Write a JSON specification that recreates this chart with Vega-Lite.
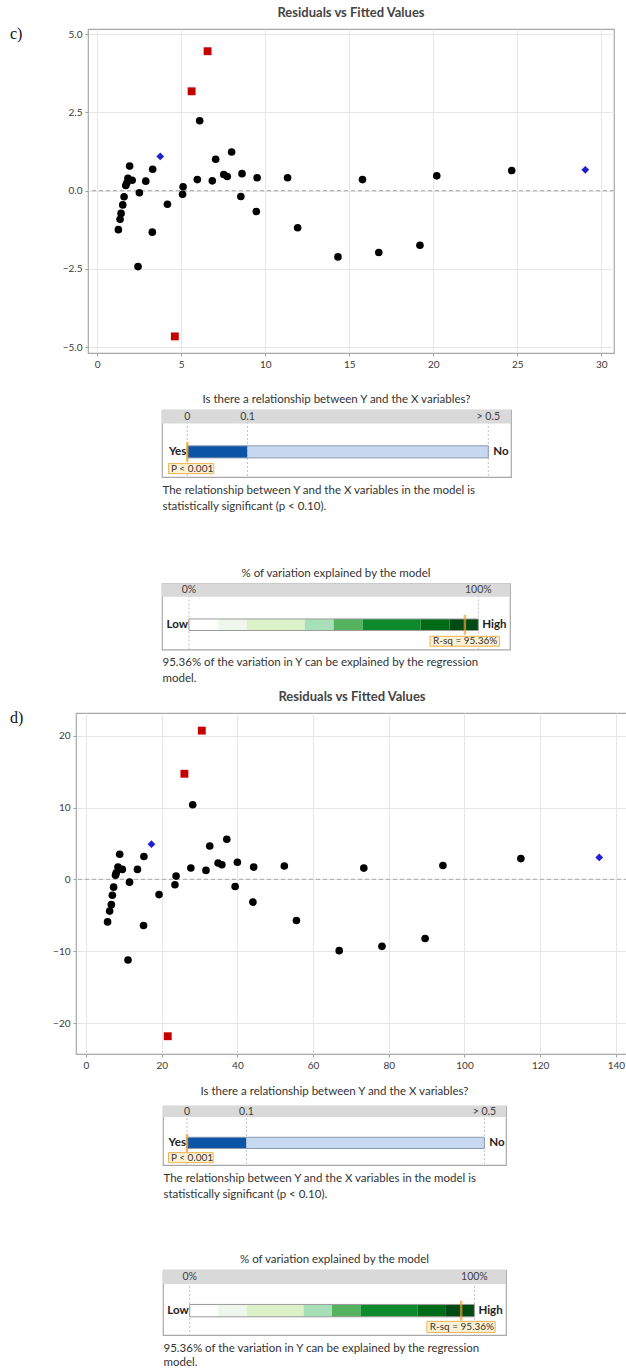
{
"$schema": "https://vega.github.io/schema/vega-lite/v6.json",
"background": "white",
"padding": {"left": 0, "top": 6, "right": 0, "bottom": 0},
"config": {
  "font": "Lato",
  "view": {"stroke": "#a8a8a8", "strokeWidth": 1.2},
  "axis": {"labelFont": "Lato", "labelFontSize": 10, "labelColor": "#3a3a3a", "tickColor": "#a0a0a0", "tickSize": 3, "domain": false, "gridColor": "#e6e6e6", "labelPadding": 3},
  "title": {"font": "Lato"},
  "text": {"font": "Lato"}
},
"datasets": {
  "resC": [
    {"fit": 1.26, "res": -1.25, "kind": "Regular"}, {"fit": 1.36, "res": -0.92, "kind": "Regular"}, {"fit": 1.42, "res": -0.73, "kind": "Regular"},
    {"fit": 1.52, "res": -0.46, "kind": "Regular"}, {"fit": 1.60, "res": -0.20, "kind": "Regular"}, {"fit": 1.70, "res": 0.16, "kind": "Regular"},
    {"fit": 1.76, "res": 0.24, "kind": "Regular"}, {"fit": 1.83, "res": 0.39, "kind": "Regular"}, {"fit": 1.93, "res": 0.78, "kind": "Regular"},
    {"fit": 2.08, "res": 0.33, "kind": "Regular"}, {"fit": 2.51, "res": -0.07, "kind": "Regular"}, {"fit": 2.43, "res": -2.43, "kind": "Regular"},
    {"fit": 2.89, "res": 0.30, "kind": "Regular"}, {"fit": 3.30, "res": 0.68, "kind": "Regular"}, {"fit": 3.28, "res": -1.33, "kind": "Regular"},
    {"fit": 4.18, "res": -0.44, "kind": "Regular"}, {"fit": 5.11, "res": 0.12, "kind": "Regular"}, {"fit": 5.08, "res": -0.12, "kind": "Regular"},
    {"fit": 5.96, "res": 0.35, "kind": "Regular"}, {"fit": 6.10, "res": 2.23, "kind": "Regular"}, {"fit": 6.85, "res": 0.31, "kind": "Regular"},
    {"fit": 7.05, "res": 1.00, "kind": "Regular"}, {"fit": 7.53, "res": 0.51, "kind": "Regular"}, {"fit": 7.74, "res": 0.45, "kind": "Regular"},
    {"fit": 8.00, "res": 1.23, "kind": "Regular"}, {"fit": 8.55, "res": -0.19, "kind": "Regular"}, {"fit": 8.62, "res": 0.54, "kind": "Regular"},
    {"fit": 9.52, "res": 0.41, "kind": "Regular"}, {"fit": 9.47, "res": -0.67, "kind": "Regular"}, {"fit": 11.33, "res": 0.41, "kind": "Regular"},
    {"fit": 11.93, "res": -1.19, "kind": "Regular"}, {"fit": 14.33, "res": -2.12, "kind": "Regular"}, {"fit": 15.79, "res": 0.35, "kind": "Regular"},
    {"fit": 16.76, "res": -1.98, "kind": "Regular"}, {"fit": 19.21, "res": -1.75, "kind": "Regular"}, {"fit": 20.21, "res": 0.47, "kind": "Regular"},
    {"fit": 24.67, "res": 0.64, "kind": "Regular"},
    {"fit": 3.75, "res": 1.09, "kind": "Unusual X"}, {"fit": 29.05, "res": 0.66, "kind": "Unusual X"},
    {"fit": 4.62, "res": -4.66, "kind": "Large residual"}, {"fit": 5.62, "res": 3.17, "kind": "Large residual"}, {"fit": 6.57, "res": 4.45, "kind": "Large residual"}
  ],
  "resD": [
    {"fit": 5.7, "res": -5.9, "kind": "Regular"}, {"fit": 6.25, "res": -4.4, "kind": "Regular"}, {"fit": 6.7, "res": -3.5, "kind": "Regular"},
    {"fit": 6.96, "res": -2.2, "kind": "Regular"}, {"fit": 7.3, "res": -1.07, "kind": "Regular"}, {"fit": 7.8, "res": 0.6, "kind": "Regular"},
    {"fit": 8.0, "res": 0.93, "kind": "Regular"}, {"fit": 8.45, "res": 1.72, "kind": "Regular"}, {"fit": 8.9, "res": 3.5, "kind": "Regular"},
    {"fit": 9.6, "res": 1.4, "kind": "Regular"}, {"fit": 11.1, "res": -11.2, "kind": "Regular"}, {"fit": 11.5, "res": -0.37, "kind": "Regular"},
    {"fit": 13.6, "res": 1.4, "kind": "Regular"}, {"fit": 15.2, "res": -6.4, "kind": "Regular"}, {"fit": 15.3, "res": 3.2, "kind": "Regular"},
    {"fit": 19.3, "res": -2.1, "kind": "Regular"}, {"fit": 23.5, "res": -0.74, "kind": "Regular"}, {"fit": 23.8, "res": 0.47, "kind": "Regular"},
    {"fit": 27.7, "res": 1.59, "kind": "Regular"}, {"fit": 28.2, "res": 10.4, "kind": "Regular"}, {"fit": 31.7, "res": 1.26, "kind": "Regular"},
    {"fit": 32.7, "res": 4.65, "kind": "Regular"}, {"fit": 34.9, "res": 2.3, "kind": "Regular"}, {"fit": 35.9, "res": 2.05, "kind": "Regular"},
    {"fit": 37.2, "res": 5.6, "kind": "Regular"}, {"fit": 39.4, "res": -0.97, "kind": "Regular"}, {"fit": 40.0, "res": 2.4, "kind": "Regular"},
    {"fit": 44.1, "res": -3.15, "kind": "Regular"}, {"fit": 44.3, "res": 1.72, "kind": "Regular"}, {"fit": 52.4, "res": 1.87, "kind": "Regular"},
    {"fit": 55.6, "res": -5.7, "kind": "Regular"}, {"fit": 66.9, "res": -9.9, "kind": "Regular"}, {"fit": 73.4, "res": 1.58, "kind": "Regular"},
    {"fit": 78.2, "res": -9.3, "kind": "Regular"}, {"fit": 89.6, "res": -8.2, "kind": "Regular"}, {"fit": 94.3, "res": 1.95, "kind": "Regular"},
    {"fit": 114.9, "res": 2.9, "kind": "Regular"},
    {"fit": 17.3, "res": 4.9, "kind": "Unusual X"}, {"fit": 135.6, "res": 3.07, "kind": "Unusual X"},
    {"fit": 21.6, "res": -21.8, "kind": "Large residual"}, {"fit": 26.0, "res": 14.7, "kind": "Large residual"}, {"fit": 30.6, "res": 20.7, "kind": "Large residual"}
  ]
},
"spacing": 5,
"resolve": {"scale": {"color": "independent", "shape": "independent", "size": "independent"}},
"vconcat": [
 {"spacing": 53.5, "resolve": {"scale": {"color": "independent", "shape": "independent", "size": "independent"}}, "vconcat": [
  {"spacing": 23, "resolve": {"scale": {"color": "independent", "shape": "independent", "size": "independent"}}, "vconcat": [
   {"spacing": 0, "hconcat": [
    {"width": 61, "height": 1, "view": {"stroke": null}, "data": {"values": [{"t": ""}]}, "mark": "text", "encoding": {"text": {"field": "t"}},
     "title": {"text": "c)", "orient": "bottom", "anchor": "start", "frame": "group", "font": "Liberation Serif", "fontSize": 16, "fontWeight": "normal", "color": "#111111", "offset": 0, "dx": 10, "dy": -9}},
    {"width": 526, "height": 324,
     "title": {"text": "Residuals vs Fitted Values", "fontSize": 13, "fontWeight": "bold", "color": "#444444", "offset": 9, "frame": "group", "anchor": "middle"},
     "layer": [
      {"data": {"values": [{"r": 0}]}, "mark": {"type": "rule", "color": "#b4b4b4", "strokeDash": [4, 3], "strokeWidth": 1.3},
       "encoding": {"y": {"field": "r", "type": "quantitative", "scale": {"domain": [-5.19, 5.16], "nice": false, "zero": false}, "axis": {"values": [-5, -2.5, 0, 2.5, 5], "format": ".1f", "title": null}}}},
      {"data": {"name": "resC"}, "mark": {"type": "point", "filled": true, "opacity": 1},
       "encoding": {
        "x": {"field": "fit", "type": "quantitative", "scale": {"domain": [-0.548, 30.76], "nice": false, "zero": false}, "axis": {"values": [0, 5, 10, 15, 20, 25, 30], "title": null}},
        "y": {"field": "res", "type": "quantitative"},
        "color": {"field": "kind", "type": "nominal", "scale": {"domain": ["Regular", "Unusual X", "Large residual"], "range": ["#000000", "#1f1fd6", "#c40000"]}, "legend": null},
        "shape": {"field": "kind", "type": "nominal", "scale": {"domain": ["Regular", "Unusual X", "Large residual"], "range": ["circle", "diamond", "square"]}, "legend": null},
        "size": {"field": "kind", "type": "nominal", "scale": {"domain": ["Regular", "Unusual X", "Large residual"], "range": [58, 62, 55]}, "legend": null}
       }}
     ]}
   ]},
   {"spacing": 0, "hconcat": [
    {"width": 161, "height": 1, "view": {"stroke": null}, "data": {"values": [{"t": ""}]}, "mark": "text", "encoding": {"text": {"field": "t"}}},
    {"width": 349, "height": 67,
     "title": {"text": "Is there a relationship between Y and the X variables?", "fontSize": 11.5, "fontWeight": "normal", "color": "#333333", "offset": 4, "frame": "group", "anchor": "middle"},
     "layer": [
      {"data": {"values": [{"p": 0}, {"p": 0.1}, {"p": 0.5}]}, "mark": {"type": "rule", "color": "#c4c4c4", "strokeDash": [2, 2], "strokeWidth": 1},
       "encoding": {"x": {"field": "p", "type": "quantitative", "scale": {"domain": [-0.042, 0.5377], "nice": false, "zero": false},
        "axis": {"labels": false, "ticks": false, "domain": false, "grid": false, "title": ["The relationship between Y and the X variables in the model is", "statistically significant (p < 0.10)."], "titleAnchor": "start", "titleAlign": "left", "titleBaseline": "top", "titleFontWeight": "normal", "titleFontSize": 11.5, "titleColor": "#333333", "titlePadding": 7, "titleLineHeight": 16}}}},
      {"data": {"values": [{"lane": "head", "lo": -0.042, "hi": 0.5377}]}, "mark": {"type": "bar", "color": "#d9d9d9", "height": {"band": 0.8}, "yOffset": -1.7},
       "encoding": {"x": {"field": "lo", "type": "quantitative"}, "x2": {"field": "hi"}, "y": {"field": "lane", "type": "nominal", "scale": {"type": "band", "domain": ["head", "gap", "bar", "lab"], "paddingInner": 0, "paddingOuter": 0}, "axis": null}}},
      {"data": {"values": [{"lane": "head", "p": 0, "t": "0"}, {"lane": "head", "p": 0.1, "t": "0.1"}, {"lane": "head", "p": 0.5, "t": "> 0.5"}]}, "mark": {"type": "text", "fontSize": 10.5, "color": "#404040", "dy": -1.5},
       "encoding": {"x": {"field": "p", "type": "quantitative"}, "y": {"field": "lane", "type": "nominal", "axis": null}, "text": {"field": "t"}}},
      {"data": {"values": [{"lane": "bar", "lo": 0, "hi": 0.1, "zone": "significant"}, {"lane": "bar", "lo": 0.1, "hi": 0.5, "zone": "not significant"}]}, "mark": {"type": "bar", "height": {"band": 0.72}},
       "encoding": {"x": {"field": "lo", "type": "quantitative"}, "x2": {"field": "hi"}, "y": {"field": "lane", "type": "nominal", "axis": null},
        "color": {"field": "zone", "type": "nominal", "scale": {"domain": ["significant", "not significant"], "range": ["#0b55a6", "#c6d9f1"]}, "legend": null}}},
      {"data": {"values": [{"lane": "bar"}]}, "mark": {"type": "bar", "height": {"band": 0.72}, "fillOpacity": 0, "stroke": "#8a9ab2", "strokeWidth": 1},
       "encoding": {"x": {"datum": 0}, "x2": {"datum": 0.5}, "y": {"field": "lane", "type": "nominal", "axis": null}}},
      {"data": {"values": [{"lane": "lab"}]}, "mark": {"type": "bar", "height": {"band": 0.6}, "fill": "#fdf1d3", "stroke": "#efb252", "strokeWidth": 1},
       "encoding": {"x": {"datum": -0.031}, "x2": {"datum": 0.044}, "y": {"field": "lane", "type": "nominal", "axis": null}}},
      {"data": {"values": [{"lane": "lab", "t": "P < 0.001"}]}, "mark": {"type": "text", "align": "left", "fontSize": 10, "color": "#333333"},
       "encoding": {"x": {"datum": -0.027}, "y": {"field": "lane", "type": "nominal", "axis": null}, "text": {"field": "t"}}},
      {"data": {"values": [{"lane": "bar", "p": 0}]}, "mark": {"type": "tick", "color": "#f0a030", "thickness": 2.5, "size": 20},
       "encoding": {"x": {"field": "p", "type": "quantitative"}, "y": {"field": "lane", "type": "nominal", "axis": null}}},
      {"data": {"values": [{"lane": "bar", "t": "Yes"}]}, "mark": {"type": "text", "align": "right", "dx": -1, "fontWeight": "bold", "fontSize": 11.5, "color": "#222222"},
       "encoding": {"x": {"datum": 0}, "y": {"field": "lane", "type": "nominal", "axis": null}, "text": {"field": "t"}}},
      {"data": {"values": [{"lane": "bar", "t": "No"}]}, "mark": {"type": "text", "align": "left", "dx": 5, "fontWeight": "bold", "fontSize": 11.5, "color": "#222222"},
       "encoding": {"x": {"datum": 0.5}, "y": {"field": "lane", "type": "nominal", "axis": null}, "text": {"field": "t"}}}
     ]}
   ]}
  ]},
  {"spacing": 0, "hconcat": [
   {"width": 161, "height": 1, "view": {"stroke": null}, "data": {"values": [{"t": ""}]}, "mark": "text", "encoding": {"text": {"field": "t"}}},
   {"width": 348, "height": 66,
    "title": {"text": "% of variation explained by the model", "fontSize": 11.5, "fontWeight": "normal", "color": "#333333", "offset": 4, "frame": "group", "anchor": "middle"},
    "layer": [
     {"data": {"values": [{"r": 0}, {"r": 100}]}, "mark": {"type": "rule", "color": "#c4c4c4", "strokeDash": [2, 2], "strokeWidth": 1},
      "encoding": {"x": {"field": "r", "type": "quantitative", "scale": {"domain": [-9.32, 110.94], "nice": false, "zero": false},
       "axis": {"labels": false, "ticks": false, "domain": false, "grid": false, "title": ["95.36% of the variation in Y can be explained by the regression", "model."], "titleAnchor": "start", "titleAlign": "left", "titleBaseline": "top", "titleFontWeight": "normal", "titleFontSize": 11.5, "titleColor": "#333333", "titlePadding": 7, "titleLineHeight": 16}}}},
     {"data": {"values": [{"lane": "head", "lo": -9.32, "hi": 110.94}]}, "mark": {"type": "bar", "color": "#d9d9d9", "height": {"band": 0.8}, "yOffset": -1.6},
      "encoding": {"x": {"field": "lo", "type": "quantitative"}, "x2": {"field": "hi"}, "y": {"field": "lane", "type": "nominal", "scale": {"type": "band", "domain": ["head", "gap", "bar", "lab"], "paddingInner": 0, "paddingOuter": 0}, "axis": null}}},
     {"data": {"values": [{"lane": "head", "r": 0, "t": "0%"}, {"lane": "head", "r": 100, "t": "100%"}]}, "mark": {"type": "text", "fontSize": 10.5, "color": "#404040", "dy": -1.5},
      "encoding": {"x": {"field": "r", "type": "quantitative"}, "y": {"field": "lane", "type": "nominal", "axis": null}, "text": {"field": "t"}}},
     {"data": {"values": [
       {"lane": "bar", "lo": 0, "hi": 10, "zone": "0-10"}, {"lane": "bar", "lo": 10, "hi": 20, "zone": "10-20"}, {"lane": "bar", "lo": 20, "hi": 40, "zone": "20-40"},
       {"lane": "bar", "lo": 40, "hi": 50, "zone": "40-50"}, {"lane": "bar", "lo": 50, "hi": 60, "zone": "50-60"}, {"lane": "bar", "lo": 60, "hi": 80, "zone": "60-80"},
       {"lane": "bar", "lo": 80, "hi": 90, "zone": "80-90"}, {"lane": "bar", "lo": 90, "hi": 100, "zone": "90-100"}]},
      "mark": {"type": "bar", "height": {"band": 0.7}},
      "encoding": {"x": {"field": "lo", "type": "quantitative"}, "x2": {"field": "hi"}, "y": {"field": "lane", "type": "nominal", "axis": null},
       "color": {"field": "zone", "type": "nominal", "scale": {"domain": ["0-10", "10-20", "20-40", "40-50", "50-60", "60-80", "80-90", "90-100"], "range": ["#ffffff", "#eff7ec", "#dcf1c7", "#a6dfb8", "#55b25e", "#0c8a2c", "#006c18", "#004a13"]}, "legend": null}}},
     {"data": {"values": [{"lane": "bar"}]}, "mark": {"type": "bar", "height": {"band": 0.7}, "fillOpacity": 0, "stroke": "#9a9a9a", "strokeWidth": 1},
      "encoding": {"x": {"datum": 0}, "x2": {"datum": 100}, "y": {"field": "lane", "type": "nominal", "axis": null}}},
     {"data": {"values": [{"lane": "lab"}]}, "mark": {"type": "bar", "height": {"band": 0.6}, "fill": "#fdf1d3", "stroke": "#efb252", "strokeWidth": 1},
      "encoding": {"x": {"datum": 83.3}, "x2": {"datum": 107.3}, "y": {"field": "lane", "type": "nominal", "axis": null}}},
     {"data": {"values": [{"lane": "lab", "t": "R-sq = 95.36%"}]}, "mark": {"type": "text", "align": "left", "fontSize": 10, "color": "#333333"},
      "encoding": {"x": {"datum": 84.3}, "y": {"field": "lane", "type": "nominal", "axis": null}, "text": {"field": "t"}}},
     {"data": {"values": [{"lane": "bar", "r": 95.36}]}, "mark": {"type": "tick", "color": "#f0a030", "thickness": 2.5, "size": 20},
      "encoding": {"x": {"field": "r", "type": "quantitative"}, "y": {"field": "lane", "type": "nominal", "axis": null}}},
     {"data": {"values": [{"lane": "bar", "t": "Low"}]}, "mark": {"type": "text", "align": "right", "dx": -1, "fontWeight": "bold", "fontSize": 11.5, "color": "#222222"},
      "encoding": {"x": {"datum": 0}, "y": {"field": "lane", "type": "nominal", "axis": null}, "text": {"field": "t"}}},
     {"data": {"values": [{"lane": "bar", "t": "High"}]}, "mark": {"type": "text", "align": "left", "dx": 4, "fontWeight": "bold", "fontSize": 11.5, "color": "#222222"},
      "encoding": {"x": {"datum": 100}, "y": {"field": "lane", "type": "nominal", "axis": null}, "text": {"field": "t"}}}
    ]}
  ]}
 ]},
 {"spacing": 52, "resolve": {"scale": {"color": "independent", "shape": "independent", "size": "independent"}}, "vconcat": [
  {"spacing": 14, "resolve": {"scale": {"color": "independent", "shape": "independent", "size": "independent"}}, "vconcat": [
   {"spacing": 0, "hconcat": [
    {"width": 51, "height": 1, "view": {"stroke": null}, "data": {"values": [{"t": ""}]}, "mark": "text", "encoding": {"text": {"field": "t"}},
     "title": {"text": "d)", "orient": "bottom", "anchor": "start", "frame": "group", "font": "Liberation Serif", "fontSize": 16, "fontWeight": "normal", "color": "#111111", "offset": 0, "dx": 10, "dy": -9}},
    {"width": 552, "height": 341,
     "title": {"text": "Residuals vs Fitted Values", "fontSize": 13, "fontWeight": "bold", "color": "#444444", "offset": 9, "frame": "group", "anchor": "middle"},
     "layer": [
      {"data": {"values": [{"r": 0}]}, "mark": {"type": "rule", "color": "#b4b4b4", "strokeDash": [4, 3], "strokeWidth": 1.3},
       "encoding": {"y": {"field": "r", "type": "quantitative", "scale": {"domain": [-24.27, 23.15], "nice": false, "zero": false}, "axis": {"values": [-20, -10, 0, 10, 20], "title": null}}}},
      {"data": {"name": "resD"}, "mark": {"type": "point", "filled": true, "opacity": 1},
       "encoding": {
        "x": {"field": "fit", "type": "quantitative", "scale": {"domain": [-2.64, 143.2], "nice": false, "zero": false}, "axis": {"values": [0, 20, 40, 60, 80, 100, 120, 140], "title": null}},
        "y": {"field": "res", "type": "quantitative"},
        "color": {"field": "kind", "type": "nominal", "scale": {"domain": ["Regular", "Unusual X", "Large residual"], "range": ["#000000", "#1f1fd6", "#c40000"]}, "legend": null},
        "shape": {"field": "kind", "type": "nominal", "scale": {"domain": ["Regular", "Unusual X", "Large residual"], "range": ["circle", "diamond", "square"]}, "legend": null},
        "size": {"field": "kind", "type": "nominal", "scale": {"domain": ["Regular", "Unusual X", "Large residual"], "range": [58, 62, 55]}, "legend": null}
       }}
     ]}
   ]},
   {"spacing": 0, "hconcat": [
    {"width": 162, "height": 1, "view": {"stroke": null}, "data": {"values": [{"t": ""}]}, "mark": "text", "encoding": {"text": {"field": "t"}}},
    {"width": 343, "height": 59,
     "title": {"text": "Is there a relationship between Y and the X variables?", "fontSize": 11.5, "fontWeight": "normal", "color": "#333333", "offset": 8, "frame": "group", "anchor": "middle"},
     "layer": [
      {"data": {"values": [{"p": 0}, {"p": 0.1}, {"p": 0.5}]}, "mark": {"type": "rule", "color": "#c4c4c4", "strokeDash": [2, 2], "strokeWidth": 1},
       "encoding": {"x": {"field": "p", "type": "quantitative", "scale": {"domain": [-0.0403, 0.5364], "nice": false, "zero": false},
        "axis": {"labels": false, "ticks": false, "domain": false, "grid": false, "title": ["The relationship between Y and the X variables in the model is", "statistically significant (p < 0.10)."], "titleAnchor": "start", "titleAlign": "left", "titleBaseline": "top", "titleFontWeight": "normal", "titleFontSize": 11.5, "titleColor": "#333333", "titlePadding": 7, "titleLineHeight": 16}}}},
      {"data": {"values": [{"lane": "head", "lo": -0.0403, "hi": 0.5364}]}, "mark": {"type": "bar", "color": "#d9d9d9", "height": {"band": 0.75}, "yOffset": -1.8},
       "encoding": {"x": {"field": "lo", "type": "quantitative"}, "x2": {"field": "hi"}, "y": {"field": "lane", "type": "nominal", "scale": {"type": "band", "domain": ["head", "gap", "bar", "lab"], "paddingInner": 0, "paddingOuter": 0}, "axis": null}}},
      {"data": {"values": [{"lane": "head", "p": 0, "t": "0"}, {"lane": "head", "p": 0.1, "t": "0.1"}, {"lane": "head", "p": 0.5, "t": "> 0.5"}]}, "mark": {"type": "text", "fontSize": 10.5, "color": "#404040", "dy": -1.5},
       "encoding": {"x": {"field": "p", "type": "quantitative"}, "y": {"field": "lane", "type": "nominal", "axis": null}, "text": {"field": "t"}}},
      {"data": {"values": [{"lane": "bar", "lo": 0, "hi": 0.1, "zone": "significant"}, {"lane": "bar", "lo": 0.1, "hi": 0.5, "zone": "not significant"}]}, "mark": {"type": "bar", "height": {"band": 0.76}},
       "encoding": {"x": {"field": "lo", "type": "quantitative"}, "x2": {"field": "hi"}, "y": {"field": "lane", "type": "nominal", "axis": null},
        "color": {"field": "zone", "type": "nominal", "scale": {"domain": ["significant", "not significant"], "range": ["#0b55a6", "#c6d9f1"]}, "legend": null}}},
      {"data": {"values": [{"lane": "bar"}]}, "mark": {"type": "bar", "height": {"band": 0.76}, "fillOpacity": 0, "stroke": "#8a9ab2", "strokeWidth": 1},
       "encoding": {"x": {"datum": 0}, "x2": {"datum": 0.5}, "y": {"field": "lane", "type": "nominal", "axis": null}}},
      {"data": {"values": [{"lane": "lab"}]}, "mark": {"type": "bar", "height": {"band": 0.68}, "fill": "#fdf1d3", "stroke": "#efb252", "strokeWidth": 1},
       "encoding": {"x": {"datum": -0.031}, "x2": {"datum": 0.044}, "y": {"field": "lane", "type": "nominal", "axis": null}}},
      {"data": {"values": [{"lane": "lab", "t": "P < 0.001"}]}, "mark": {"type": "text", "align": "left", "fontSize": 10, "color": "#333333"},
       "encoding": {"x": {"datum": -0.027}, "y": {"field": "lane", "type": "nominal", "axis": null}, "text": {"field": "t"}}},
      {"data": {"values": [{"lane": "bar", "p": 0}]}, "mark": {"type": "tick", "color": "#f0a030", "thickness": 2.5, "size": 18},
       "encoding": {"x": {"field": "p", "type": "quantitative"}, "y": {"field": "lane", "type": "nominal", "axis": null}}},
      {"data": {"values": [{"lane": "bar", "t": "Yes"}]}, "mark": {"type": "text", "align": "right", "dx": -1, "fontWeight": "bold", "fontSize": 11.5, "color": "#222222"},
       "encoding": {"x": {"datum": 0}, "y": {"field": "lane", "type": "nominal", "axis": null}, "text": {"field": "t"}}},
      {"data": {"values": [{"lane": "bar", "t": "No"}]}, "mark": {"type": "text", "align": "left", "dx": 5, "fontWeight": "bold", "fontSize": 11.5, "color": "#222222"},
       "encoding": {"x": {"datum": 0.5}, "y": {"field": "lane", "type": "nominal", "axis": null}, "text": {"field": "t"}}}
     ]}
   ]}
  ]},
  {"spacing": 0, "hconcat": [
   {"width": 162, "height": 1, "view": {"stroke": null}, "data": {"values": [{"t": ""}]}, "mark": "text", "encoding": {"text": {"field": "t"}}},
   {"width": 343, "height": 65,
    "title": {"text": "% of variation explained by the model", "fontSize": 11.5, "fontWeight": "normal", "color": "#333333", "offset": 4, "frame": "group", "anchor": "middle"},
    "layer": [
     {"data": {"values": [{"r": 0}, {"r": 100}]}, "mark": {"type": "rule", "color": "#c4c4c4", "strokeDash": [2, 2], "strokeWidth": 1},
      "encoding": {"x": {"field": "r", "type": "quantitative", "scale": {"domain": [-9.37, 111.1], "nice": false, "zero": false},
       "axis": {"labels": false, "ticks": false, "domain": false, "grid": false, "title": ["95.36% of the variation in Y can be explained by the regression", "model."], "titleAnchor": "start", "titleAlign": "left", "titleBaseline": "top", "titleFontWeight": "normal", "titleFontSize": 11.5, "titleColor": "#333333", "titlePadding": 7, "titleLineHeight": 14}}}},
     {"data": {"values": [{"lane": "head", "lo": -9.37, "hi": 111.1}]}, "mark": {"type": "bar", "color": "#d9d9d9", "height": {"band": 0.87}, "yOffset": -1.1},
      "encoding": {"x": {"field": "lo", "type": "quantitative"}, "x2": {"field": "hi"}, "y": {"field": "lane", "type": "nominal", "scale": {"type": "band", "domain": ["head", "gap", "bar", "lab"], "paddingInner": 0, "paddingOuter": 0}, "axis": null}}},
     {"data": {"values": [{"lane": "head", "r": 0, "t": "0%"}, {"lane": "head", "r": 100, "t": "100%"}]}, "mark": {"type": "text", "fontSize": 10.5, "color": "#404040", "dy": -1},
      "encoding": {"x": {"field": "r", "type": "quantitative"}, "y": {"field": "lane", "type": "nominal", "axis": null}, "text": {"field": "t"}}},
     {"data": {"values": [
       {"lane": "bar", "lo": 0, "hi": 10, "zone": "0-10"}, {"lane": "bar", "lo": 10, "hi": 20, "zone": "10-20"}, {"lane": "bar", "lo": 20, "hi": 40, "zone": "20-40"},
       {"lane": "bar", "lo": 40, "hi": 50, "zone": "40-50"}, {"lane": "bar", "lo": 50, "hi": 60, "zone": "50-60"}, {"lane": "bar", "lo": 60, "hi": 80, "zone": "60-80"},
       {"lane": "bar", "lo": 80, "hi": 90, "zone": "80-90"}, {"lane": "bar", "lo": 90, "hi": 100, "zone": "90-100"}]},
      "mark": {"type": "bar", "height": {"band": 0.76}},
      "encoding": {"x": {"field": "lo", "type": "quantitative"}, "x2": {"field": "hi"}, "y": {"field": "lane", "type": "nominal", "axis": null},
       "color": {"field": "zone", "type": "nominal", "scale": {"domain": ["0-10", "10-20", "20-40", "40-50", "50-60", "60-80", "80-90", "90-100"], "range": ["#ffffff", "#eff7ec", "#dcf1c7", "#a6dfb8", "#55b25e", "#0c8a2c", "#006c18", "#004a13"]}, "legend": null}}},
     {"data": {"values": [{"lane": "bar"}]}, "mark": {"type": "bar", "height": {"band": 0.76}, "fillOpacity": 0, "stroke": "#9a9a9a", "strokeWidth": 1},
      "encoding": {"x": {"datum": 0}, "x2": {"datum": 100}, "y": {"field": "lane", "type": "nominal", "axis": null}}},
     {"data": {"values": [{"lane": "lab"}]}, "mark": {"type": "bar", "height": {"band": 0.68}, "fill": "#fdf1d3", "stroke": "#efb252", "strokeWidth": 1},
      "encoding": {"x": {"datum": 83.3}, "x2": {"datum": 107.3}, "y": {"field": "lane", "type": "nominal", "axis": null}}},
     {"data": {"values": [{"lane": "lab", "t": "R-sq = 95.36%"}]}, "mark": {"type": "text", "align": "left", "fontSize": 10, "color": "#333333"},
      "encoding": {"x": {"datum": 84.3}, "y": {"field": "lane", "type": "nominal", "axis": null}, "text": {"field": "t"}}},
     {"data": {"values": [{"lane": "bar", "r": 95.36}]}, "mark": {"type": "tick", "color": "#f0a030", "thickness": 2.5, "size": 20},
      "encoding": {"x": {"field": "r", "type": "quantitative"}, "y": {"field": "lane", "type": "nominal", "axis": null}}},
     {"data": {"values": [{"lane": "bar", "t": "Low"}]}, "mark": {"type": "text", "align": "right", "dx": -1, "fontWeight": "bold", "fontSize": 11.5, "color": "#222222"},
      "encoding": {"x": {"datum": 0}, "y": {"field": "lane", "type": "nominal", "axis": null}, "text": {"field": "t"}}},
     {"data": {"values": [{"lane": "bar", "t": "High"}]}, "mark": {"type": "text", "align": "left", "dx": 4, "fontWeight": "bold", "fontSize": 11.5, "color": "#222222"},
      "encoding": {"x": {"datum": 100}, "y": {"field": "lane", "type": "nominal", "axis": null}, "text": {"field": "t"}}}
    ]}
  ]}
 ]}
]
}
